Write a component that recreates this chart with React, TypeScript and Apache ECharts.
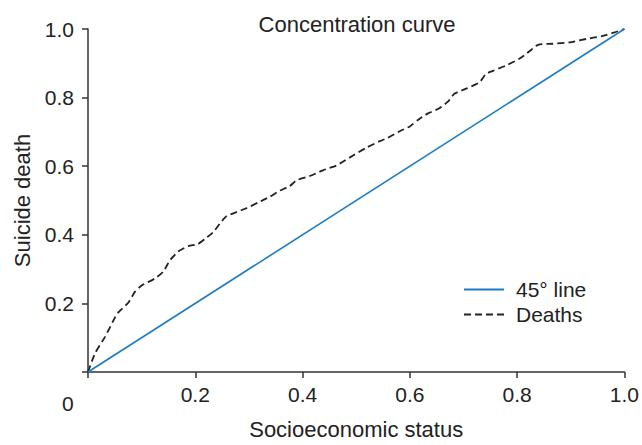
import React, { useEffect, useRef } from "react";
import * as echarts from "echarts";

const chartTitle = "Concentration curve";
const xAxisName = "Socioeconomic status";
const yAxisName = "Suicide death";
const seriesNames = ["45° line", "Deaths"];

const equalityLine: [number, number][] = [
  [0, 0],
  [1, 1],
];

const deathsX = [
  0, 0.013, 0.032, 0.047, 0.056, 0.075, 0.088, 0.1, 0.125, 0.14, 0.153, 0.168,
  0.187, 0.205, 0.218, 0.233, 0.246, 0.258, 0.277, 0.296, 0.317, 0.339, 0.358,
  0.376, 0.389, 0.413, 0.438, 0.463, 0.475, 0.494, 0.519, 0.544, 0.559, 0.581,
  0.6, 0.615, 0.634, 0.655, 0.671, 0.683, 0.705, 0.73, 0.742, 0.755, 0.78,
  0.804, 0.823, 0.839, 0.866, 0.898, 0.929, 0.96, 0.985, 1.0,
];
const deathsY = [
  0, 0.054, 0.103, 0.149, 0.173, 0.202, 0.235, 0.252, 0.273, 0.292, 0.326,
  0.351, 0.367, 0.373, 0.388, 0.407, 0.433, 0.454, 0.466, 0.478, 0.494, 0.511,
  0.529, 0.542, 0.559, 0.571, 0.588, 0.602, 0.613, 0.631, 0.654, 0.673, 0.683,
  0.702, 0.716, 0.735, 0.754, 0.769, 0.788, 0.811, 0.826, 0.845, 0.869, 0.878,
  0.894, 0.913, 0.935, 0.954, 0.957, 0.961, 0.971, 0.98, 0.992, 1.0,
];

const FONT = "'Liberation Sans', Arial, sans-serif";
const TXT = "#222";

export default function App() {
  const ref = useRef<HTMLDivElement>(null);

  useEffect(() => {
    if (!ref.current) return;
    const chart = echarts.init(ref.current, undefined, { renderer: "svg" });
    const deaths = deathsX.map((x, i) => [x, deathsY[i]]);
    const fmt = (v: number) => (v === 0 ? "" : v.toFixed(1));
    chart.setOption({
      animation: false,
      backgroundColor: "#fff",
      textStyle: { fontFamily: FONT },
      title: {
        text: chartTitle,
        left: 352,
        top: 8,
        textAlign: "center",
        textStyle: { fontFamily: FONT, fontSize: 22, fontWeight: "normal", color: TXT },
      },
      grid: { left: 88, right: 17, top: 29, bottom: 66, containLabel: false },
      legend: {
        orient: "vertical",
        left: 463,
        top: 279,
        padding: 0,
        itemWidth: 40,
        itemHeight: 14,
        itemGap: 4,
        data: seriesNames,
        itemStyle: { opacity: 0 },
        textStyle: { fontFamily: FONT, fontSize: 21, color: TXT, padding: [0, 0, 0, 7] },
      },
      xAxis: {
        type: "value",
        min: 0,
        max: 1,
        interval: 0.2,
        name: xAxisName,
        nameLocation: "middle",
        nameGap: 46,
        nameTextStyle: { fontFamily: FONT, fontSize: 22, color: TXT },
        axisLine: { lineStyle: { color: "#333", width: 1.5 } },
        axisTick: { show: true, length: 6, lineStyle: { color: "#333", width: 1.5 } },
        axisLabel: { formatter: fmt, fontFamily: FONT, fontSize: 21, color: TXT, margin: 12 },
        splitLine: { show: false },
      },
      yAxis: {
        type: "value",
        min: 0,
        max: 1,
        interval: 0.2,
        name: yAxisName,
        nameLocation: "middle",
        nameGap: 53,
        nameRotate: 90,
        nameTextStyle: { fontFamily: FONT, fontSize: 22, color: TXT },
        axisLine: { show: true, lineStyle: { color: "#333", width: 1.5 } },
        axisTick: { show: true, length: 6, lineStyle: { color: "#333", width: 1.5 } },
        axisLabel: { formatter: fmt, fontFamily: FONT, fontSize: 21, color: TXT, margin: 14 },
        splitLine: { show: false },
      },
      graphic: [
        {
          type: "text",
          left: 62,
          top: 393,
          style: { text: "0", fontFamily: FONT, fontSize: 21, fill: TXT },
        },
      ],
      series: [
        {
          name: seriesNames[0],
          type: "line",
          data: equalityLine,
          symbol: "none",
          lineStyle: { color: "#1a7cc4", width: 1.6 },
          itemStyle: { color: "#1a7cc4" },
          z: 3,
        },
        {
          name: seriesNames[1],
          type: "line",
          data: deaths,
          symbol: "none",
          smooth: 0.2,
          lineStyle: { color: "#222", width: 1.8, type: [7, 4] },
          itemStyle: { color: "#222" },
          z: 2,
        },
      ],
    });
    return () => chart.dispose();
  }, []);

  return (
    <div
      ref={ref}
      style={{ position: "fixed", left: 0, top: 0, width: 642, height: 445 }}
    />
  );
}
